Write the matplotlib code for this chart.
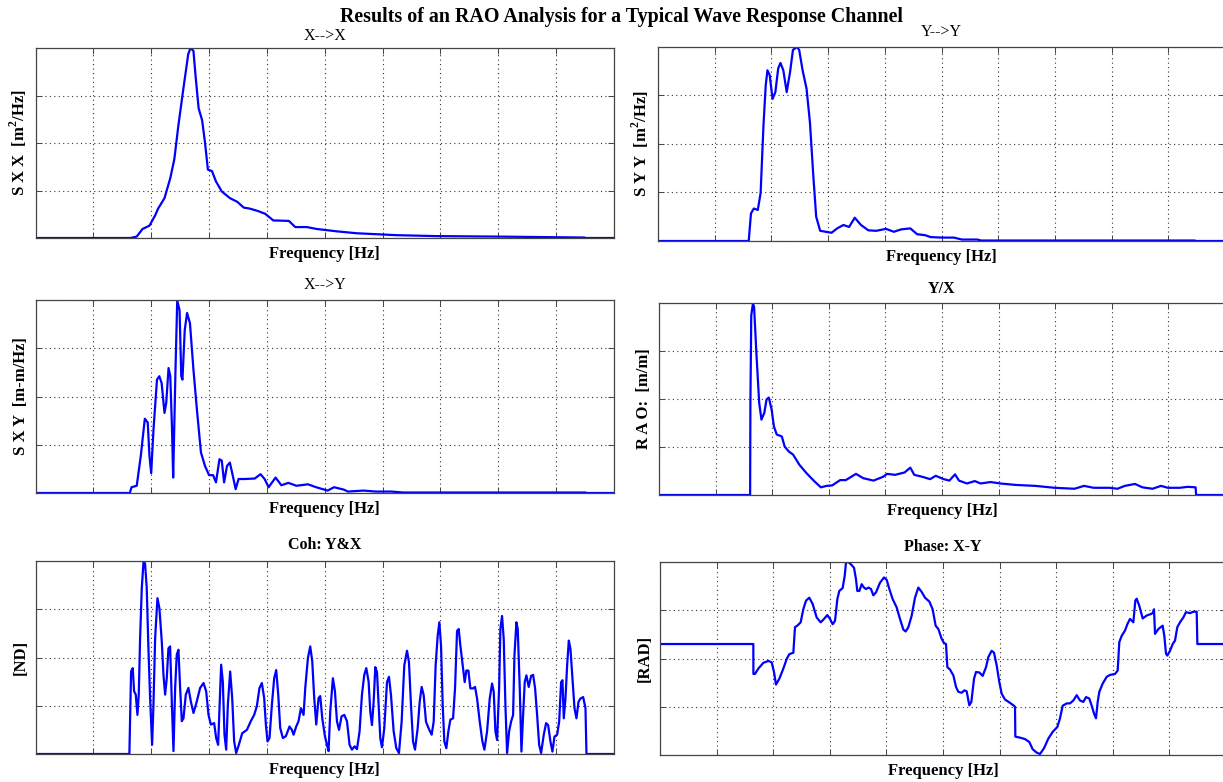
import numpy as np
import matplotlib
matplotlib.use("Agg")
import matplotlib.pyplot as plt

# frequency is in fractions of the axis span, values in grid units (4 divisions)
sxx_pts = [(0, 0), (0.164, 0), (0.175, 0.03), (0.185, 0.19), (0.197, 0.26), (0.207, 0.48),
           (0.212, 0.62), (0.223, 0.84), (0.233, 1.26), (0.240, 1.66), (0.247, 2.37),
           (0.255, 3.09), (0.264, 3.87), (0.268, 4.0), (0.273, 3.94), (0.277, 3.37),
           (0.282, 2.73), (0.288, 2.48), (0.293, 2.01), (0.298, 1.44), (0.305, 1.41),
           (0.312, 1.19), (0.322, 0.98), (0.336, 0.84), (0.349, 0.76), (0.360, 0.64),
           (0.370, 0.62), (0.384, 0.57), (0.397, 0.51), (0.411, 0.37), (0.438, 0.36),
           (0.449, 0.23), (0.469, 0.23), (0.486, 0.19), (0.521, 0.14), (0.555, 0.10),
           (0.623, 0.06), (0.692, 0.04), (0.795, 0.03), (0.949, 0.01), (0.950, 0), (1.0, 0)]

syy_pts = [(0, 0), (0.160, 0), (0.164, 0.57), (0.169, 0.67), (0.176, 0.64), (0.181, 0.99),
           (0.186, 2.38), (0.190, 3.21), (0.193, 3.52), (0.197, 3.42), (0.202, 2.93),
           (0.207, 3.07), (0.212, 3.56), (0.216, 3.67), (0.221, 3.52), (0.227, 3.07),
           (0.233, 3.49), (0.238, 3.94), (0.245, 4.0), (0.249, 3.94), (0.255, 3.52),
           (0.262, 3.14), (0.268, 2.44), (0.274, 1.33), (0.279, 0.50), (0.286, 0.21),
           (0.296, 0.19), (0.306, 0.17), (0.316, 0.26), (0.327, 0.33), (0.337, 0.29),
           (0.347, 0.48), (0.358, 0.33), (0.371, 0.22), (0.385, 0.21), (0.402, 0.25),
           (0.416, 0.19), (0.429, 0.24), (0.445, 0.26), (0.457, 0.14), (0.471, 0.12),
           (0.481, 0.08), (0.501, 0.07), (0.522, 0.07), (0.536, 0.03), (0.563, 0.03),
           (0.570, 0.01), (0.947, 0.01), (0.948, 0), (1.0, 0)]

sxy_pts = [(0, 0), (0.163, 0), (0.166, 0.12), (0.175, 0.15), (0.182, 0.77), (0.189, 1.54),
           (0.194, 1.46), (0.197, 0.77), (0.200, 0.41), (0.204, 1.32), (0.210, 2.35),
           (0.214, 2.42), (0.218, 2.28), (0.223, 1.66), (0.226, 1.87), (0.230, 2.59),
           (0.233, 2.42), (0.236, 1.32), (0.238, 0.32), (0.242, 2.56), (0.245, 3.99),
           (0.249, 3.79), (0.252, 2.42), (0.254, 2.35), (0.258, 3.38), (0.262, 3.73),
           (0.267, 3.52), (0.273, 2.56), (0.279, 1.73), (0.286, 0.84), (0.293, 0.56),
           (0.300, 0.37), (0.307, 0.37), (0.312, 0.22), (0.318, 0.70), (0.322, 0.67),
           (0.326, 0.22), (0.331, 0.56), (0.336, 0.63), (0.341, 0.36), (0.346, 0.08),
           (0.351, 0.29), (0.362, 0.29), (0.379, 0.30), (0.389, 0.39), (0.396, 0.29),
           (0.403, 0.12), (0.415, 0.32), (0.425, 0.16), (0.437, 0.21), (0.451, 0.15),
           (0.471, 0.18), (0.485, 0.12), (0.505, 0.05), (0.516, 0.12), (0.533, 0.07),
           (0.540, 0.03), (0.567, 0.05), (0.588, 0.03), (0.615, 0.03), (0.636, 0.01),
           (0.951, 0.01), (0.952, 0), (1.0, 0)]

rao_pts = [(0, 0), (0.161, 0), (0.1615, 1.92), (0.163, 3.74), (0.166, 3.99), (0.168, 3.92),
           (0.172, 2.97), (0.177, 1.92), (0.181, 1.57), (0.186, 1.71), (0.190, 1.99),
           (0.194, 2.03), (0.199, 1.78), (0.203, 1.43), (0.208, 1.26), (0.217, 1.22),
           (0.222, 1.01), (0.229, 0.91), (0.237, 0.84), (0.248, 0.63), (0.261, 0.45),
           (0.275, 0.28), (0.286, 0.16), (0.296, 0.19), (0.306, 0.20), (0.320, 0.31),
           (0.330, 0.31), (0.348, 0.44), (0.361, 0.35), (0.379, 0.30), (0.396, 0.38),
           (0.403, 0.44), (0.417, 0.42), (0.434, 0.47), (0.444, 0.57), (0.451, 0.42),
           (0.465, 0.38), (0.479, 0.33), (0.489, 0.40), (0.503, 0.33), (0.513, 0.30),
           (0.523, 0.43), (0.530, 0.30), (0.544, 0.24), (0.558, 0.29), (0.568, 0.24),
           (0.586, 0.27), (0.603, 0.24), (0.630, 0.21), (0.665, 0.19), (0.699, 0.15),
           (0.734, 0.13), (0.751, 0.19), (0.768, 0.15), (0.796, 0.15), (0.810, 0.13),
           (0.823, 0.19), (0.841, 0.23), (0.854, 0.16), (0.872, 0.13), (0.887, 0.19),
           (0.899, 0.15), (0.920, 0.15), (0.934, 0.17), (0.948, 0.16), (0.949, 0), (1.0, 0)]

coh_pts = [(0, 0), (0.1623, 0), (0.1652, 1.71), (0.1681, 1.78), (0.1704, 1.30), (0.1733, 1.23),
           (0.1762, 0.81), (0.1785, 1.23), (0.1808, 2.40), (0.1837, 3.43), (0.1866, 3.97),
           (0.1894, 3.95), (0.1923, 3.43), (0.1952, 2.19), (0.1981, 1.16), (0.2016, 0.19),
           (0.2039, 1.02), (0.2068, 2.40), (0.2108, 3.23), (0.2142, 3.02), (0.2183, 2.33),
           (0.2212, 1.64), (0.2241, 1.23), (0.2269, 1.57), (0.2298, 2.19), (0.2327, 2.23),
           (0.2356, 1.09), (0.2385, 0.06), (0.2414, 1.37), (0.2442, 2.06), (0.2471, 2.16),
           (0.2500, 1.37), (0.2529, 0.68), (0.2558, 0.74), (0.2598, 1.23), (0.2644, 1.37),
           (0.2685, 1.09), (0.2731, 0.85), (0.2788, 1.09), (0.2846, 1.37), (0.2904, 1.47),
           (0.2950, 1.30), (0.2991, 0.81), (0.3031, 0.61), (0.3088, 0.64), (0.3123, 0.33),
           (0.3157, 0.19), (0.3181, 0.95), (0.3209, 1.85), (0.3238, 1.50), (0.3267, 0.40),
           (0.3296, 0.09), (0.3325, 1.02), (0.3365, 1.71), (0.3400, 1.16), (0.3434, 0.26),
           (0.3469, 0.02), (0.3515, 0.19), (0.3573, 0.43), (0.3654, 0.50), (0.3722, 0.68),
           (0.3780, 0.81), (0.3826, 0.99), (0.3872, 1.37), (0.3913, 1.47), (0.3953, 1.16),
           (0.3982, 0.61), (0.4011, 0.26), (0.4045, 0.33), (0.4086, 1.02), (0.4126, 1.57),
           (0.4161, 1.74), (0.4196, 1.23), (0.4230, 0.54), (0.4276, 0.33), (0.4328, 0.37),
           (0.4391, 0.57), (0.4432, 0.50), (0.4461, 0.40), (0.4507, 0.57), (0.4547, 0.68),
           (0.4588, 0.95), (0.4634, 0.81), (0.4663, 1.37), (0.4709, 1.99), (0.4749, 2.23),
           (0.4784, 1.92), (0.4818, 1.16), (0.4853, 0.61), (0.4893, 1.16), (0.4922, 1.20),
           (0.4957, 0.74), (0.5003, 0.37), (0.5038, 0.19), (0.5066, 0.06), (0.5095, 0.88),
           (0.5141, 1.57), (0.5176, 1.30), (0.5211, 0.68), (0.5246, 0.50), (0.5291, 0.78),
           (0.5337, 0.81), (0.5384, 0.68), (0.5429, 0.19), (0.5470, 0.09), (0.5516, 0.16),
           (0.5557, 0.10), (0.5602, 0.47), (0.5643, 1.23), (0.5683, 1.64), (0.5718, 1.78),
           (0.5758, 1.50), (0.5787, 0.88), (0.5816, 0.60), (0.5845, 1.08), (0.5874, 1.80),
           (0.5903, 1.70), (0.5931, 1.01), (0.5960, 0.33), (0.5989, 0.14), (0.6029, 0.53),
           (0.6076, 1.49), (0.6110, 1.60), (0.6145, 1.22), (0.6191, 0.47), (0.6237, 0.12),
           (0.6283, 0.02), (0.6329, 0.67), (0.6375, 1.84), (0.6422, 2.14), (0.6456, 1.90),
           (0.6491, 1.01), (0.6526, 0.26), (0.6560, 0.09), (0.6606, 0.53), (0.6641, 1.08),
           (0.6675, 1.39), (0.6710, 1.22), (0.6750, 0.67), (0.6796, 0.53), (0.6848, 0.40),
           (0.6883, 0.67), (0.6917, 1.84), (0.6952, 2.45), (0.6981, 2.73), (0.7010, 2.25),
           (0.7039, 1.01), (0.7067, 0.26), (0.7102, 0.12), (0.7137, 0.47), (0.7171, 0.71),
           (0.7218, 0.74), (0.7252, 1.36), (0.7287, 2.55), (0.7316, 2.59), (0.7344, 2.25),
           (0.7385, 1.84), (0.7419, 1.49), (0.7448, 1.73), (0.7483, 1.73), (0.7517, 1.36),
           (0.7564, 1.36), (0.7598, 1.39), (0.7633, 1.15), (0.7679, 0.67), (0.7725, 0.26),
           (0.7760, 0.09), (0.7806, 0.47), (0.7852, 1.15), (0.7892, 1.46), (0.7921, 1.29),
           (0.7950, 0.47), (0.7979, 0.29), (0.8014, 1.36), (0.8036, 2.59), (0.8065, 2.86),
           (0.8094, 2.38), (0.8123, 1.01), (0.8152, 0.02), (0.8187, 0.47), (0.8221, 0.67),
           (0.8256, 0.81), (0.8279, 2.04), (0.8313, 2.73), (0.8336, 2.59), (0.8371, 1.36),
           (0.8400, 0.05), (0.8429, 0.81), (0.8457, 1.49), (0.8486, 1.63), (0.8526, 1.39),
           (0.8567, 1.62), (0.8602, 1.64), (0.8636, 1.36), (0.8671, 0.81), (0.8706, 0.19),
           (0.8740, 0.02), (0.8786, 0.40), (0.8826, 0.64), (0.8861, 0.60), (0.8901, 0.26),
           (0.8936, 0.05), (0.8971, 0.36), (0.9017, 0.40), (0.9052, 0.67), (0.9086, 1.49),
           (0.9109, 1.53), (0.9132, 0.74), (0.9161, 1.15), (0.9190, 1.84), (0.9219, 2.35),
           (0.9247, 2.18), (0.9282, 1.56), (0.9317, 0.95), (0.9351, 0.74), (0.9386, 1.08),
           (0.9420, 1.15), (0.9467, 1.18), (0.9507, 0.95), (0.9524, 0), (1.0, 0)]

phase_pts = [(0, 2.30), (0.1649, 2.30), (0.1650, 1.68), (0.1678, 1.68), (0.1737, 1.79),
             (0.1826, 1.91), (0.1914, 1.95), (0.1973, 1.92), (0.2014, 1.72), (0.2049, 1.46),
             (0.2108, 1.58), (0.2179, 1.79), (0.2238, 1.99), (0.2285, 2.09), (0.2356, 2.12),
             (0.2385, 2.65), (0.2426, 2.68), (0.2485, 2.75), (0.2532, 3.02), (0.2580, 3.20),
             (0.2638, 3.26), (0.2697, 3.13), (0.2768, 2.85), (0.2839, 2.75), (0.2898, 2.82),
             (0.2956, 2.90), (0.3004, 2.82), (0.3051, 2.71), (0.3092, 2.78), (0.3133, 3.23),
             (0.3168, 3.40), (0.3227, 3.46), (0.3263, 3.71), (0.3286, 3.99), (0.3327, 4.0),
             (0.3375, 3.95), (0.3428, 3.88), (0.3463, 3.64), (0.3486, 3.40), (0.3522, 3.40),
             (0.3563, 3.54), (0.3604, 3.47), (0.3640, 3.44), (0.3687, 3.47), (0.3728, 3.44),
             (0.3769, 3.31), (0.3816, 3.37), (0.3887, 3.57), (0.3958, 3.68), (0.4005, 3.63),
             (0.4052, 3.44), (0.4111, 3.23), (0.4181, 3.06), (0.4240, 2.82), (0.4299, 2.60),
             (0.4340, 2.56), (0.4388, 2.65), (0.4447, 2.89), (0.4505, 3.26), (0.4564, 3.47),
             (0.4623, 3.38), (0.4682, 3.26), (0.4759, 3.18), (0.4817, 3.02), (0.4870, 2.68),
             (0.4918, 2.61), (0.4976, 2.41), (0.5018, 2.32), (0.5053, 2.30), (0.5077, 1.82),
             (0.5124, 1.77), (0.5183, 1.65), (0.5230, 1.41), (0.5271, 1.31), (0.5330, 1.29),
             (0.5377, 1.34), (0.5418, 1.32), (0.5465, 1.03), (0.5501, 1.10), (0.5548, 1.58),
             (0.5583, 1.72), (0.5642, 1.71), (0.5701, 1.64), (0.5760, 1.82), (0.5801, 2.03),
             (0.5860, 2.16), (0.5901, 2.12), (0.5948, 1.86), (0.5995, 1.51), (0.6037, 1.27),
             (0.6095, 1.15), (0.6172, 1.09), (0.6243, 1.03), (0.6272, 1.00), (0.6278, 0.38),
             (0.6360, 0.36), (0.6449, 0.33), (0.6525, 0.27), (0.6584, 0.12), (0.6655, 0.05),
             (0.6714, 0.02), (0.6784, 0.14), (0.6861, 0.34), (0.6938, 0.48), (0.7020, 0.58),
             (0.7067, 0.76), (0.7114, 1.02), (0.7185, 1.07), (0.7244, 1.07), (0.7303, 1.13),
             (0.7362, 1.24), (0.7420, 1.13), (0.7479, 1.10), (0.7527, 1.20), (0.7585, 1.17),
             (0.7633, 1.00), (0.7668, 0.86), (0.7703, 0.76), (0.7733, 1.10), (0.7762, 1.31),
             (0.7821, 1.48), (0.7892, 1.62), (0.7951, 1.66), (0.8039, 1.68), (0.8086, 1.75),
             (0.8115, 2.34), (0.8157, 2.47), (0.8216, 2.58), (0.8257, 2.71), (0.8304, 2.82),
             (0.8363, 2.75), (0.8398, 3.20), (0.8422, 3.24), (0.8469, 3.09), (0.8528, 2.83),
             (0.8598, 2.89), (0.8669, 2.92), (0.8704, 2.94), (0.8728, 3.02), (0.8746, 2.51),
             (0.8804, 2.61), (0.8881, 2.68), (0.8910, 2.47), (0.8940, 2.10), (0.8963, 2.06),
             (0.9011, 2.16), (0.9058, 2.30), (0.9099, 2.37), (0.9140, 2.65), (0.9187, 2.75),
             (0.9246, 2.85), (0.9293, 2.96), (0.9364, 2.94), (0.9423, 2.97), (0.9482, 2.97),
             (0.9494, 2.30), (1.0, 2.30)]

titles = ["X-->X", "Y-->Y", "X-->Y", "Y/X", "Coh: Y&X", "Phase: X-Y"]
title_bold = [False, False, False, True, True, True]
ylabels = [r"S X X  [m$^\mathbf{2}$/Hz]", r"S Y Y  [m$^\mathbf{2}$/Hz]", "S X Y  [m-m/Hz]",
           "R A O:  [m/m]", "[ND]", "[RAD]"]
xlabel = "Frequency [Hz]"
suptitle = "Results of an RAO Analysis for a Typical Wave Response Channel"

# axes boxes in pixels: left, top, right, bottom
boxes = [(35.5, 48, 614, 238), (658, 47, 1225, 241),
         (35.5, 300, 614, 493), (659, 303, 1225, 495),
         (35.5, 561, 614, 754), (660, 562, 1226, 755)]
title_pads = [6, 8, 8, 7, 8.5, 8]

plt.rcParams['font.family'] = ['Liberation Serif', 'DejaVu Serif']
plt.rcParams['mathtext.fontset'] = 'custom'
plt.rcParams['mathtext.rm'] = 'Liberation Serif:bold'
plt.rcParams['mathtext.bf'] = 'Liberation Serif:bold'

W, H = 1223, 782
fig = plt.figure(figsize=(W / 100, H / 100), dpi=100)
fig.text(622 / W, 1 - 17 / H, suptitle, ha='center', va='center',
         fontsize=14.4, fontweight='bold')

series = [sxx_pts, syy_pts, sxy_pts, rao_pts, coh_pts, phase_pts]
for i, pts in enumerate(series):
    l, t, r, b = boxes[i]
    ax = fig.add_axes([l / W, 1 - b / H, (r - l) / W, (b - t) / H])
    f = np.array([p[0] for p in pts])
    v = np.array([p[1] for p in pts])
    ax.plot(f, v, color='#0000ff', lw=1.6)
    ax.set_xlim(0, 1)
    ax.set_ylim(0, 4)
    ax.set_xticks(np.arange(0, 1.01, 0.1))
    ax.set_yticks(np.arange(0, 4.01, 1))
    ax.grid(True, linestyle=(0, (1, 3)), color='#333333', lw=0.8)
    ax.tick_params(direction='in', top=True, right=True, length=4, width=0.7,
                   labelbottom=False, labelleft=False, colors='#444444')
    for s in ax.spines.values():
        s.set_color('#444444')
        s.set_linewidth(0.9)
    ax.set_title(titles[i], fontsize=11.5, pad=title_pads[i],
                 fontweight='bold' if title_bold[i] else 'normal')
    ax.set_xlabel(xlabel, fontsize=12, fontweight='bold', labelpad=6)
    ax.set_ylabel(ylabels[i], fontsize=12, fontweight='bold', labelpad=5)

fig.savefig("out.png", dpi=100)
